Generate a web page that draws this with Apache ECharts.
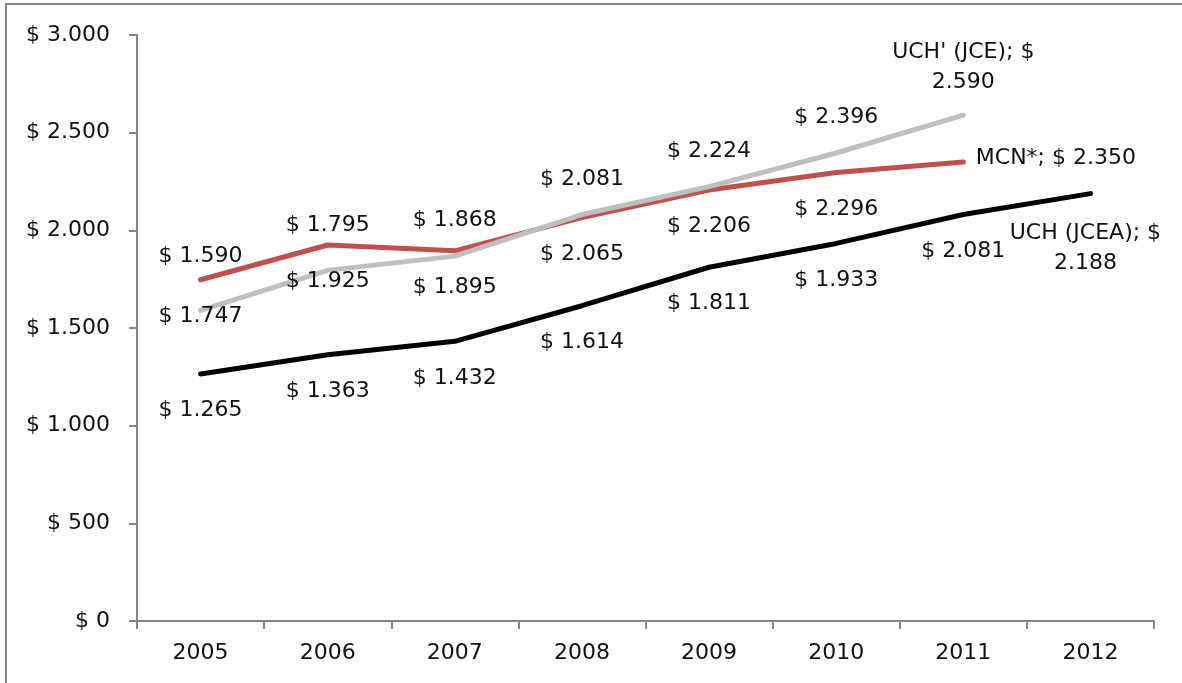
<!DOCTYPE html>
<html>
<head>
<meta charset="utf-8">
<script src="https://cdn.jsdelivr.net/npm/echarts@6/dist/echarts.min.js"></script>
<style>
  html, body { margin: 0; padding: 0; background: #fff; }
  #chart { width: 1182px; height: 683px; }
</style>
</head>
<body>
<div id="chart"></div>
<script>
// === DATA ===
const years = ["2005", "2006", "2007", "2008", "2009", "2010", "2011", "2012"];
const mcn = [1747, 1925, 1895, 2065, 2206, 2296, 2350];
const uchJce = [1590, 1795, 1868, 2081, 2224, 2396, 2590];
const uchJcea = [1265, 1363, 1432, 1614, 1811, 1933, 2081, 2188];
const yMin = 0;
const yMax = 3000;
const yStep = 500;

const FONT = "DejaVu Sans";

// "$ 1.747" style (dot as thousands separator)
const money = (v) => {
    const s = String(Math.round(v));
    return "$ " + s.replace(/\B(?=(\d{3})+(?!\d))/g, ".");
};
const plain = (v) => money(v).slice(2);

const baseLabel = {
    show: true,
    fontFamily: FONT,
    fontSize: 22,
    color: "#111",
};

// build points, last point gets the series name label
const buildData = (values, name, pos, lastLabel, tweaks) =>
    values.map((v, i) => {
        const item = { value: v };
        if (i === values.length - 1) {
            item.label = Object.assign({}, baseLabel, lastLabel, {
                formatter: () => lastLabel.text(name, v),
            });
        } else if (tweaks && tweaks[i]) {
            item.label = Object.assign({}, baseLabel, { position: pos }, tweaks[i]);
        }
        return item;
    });

// labels need symbols, so keep them but make them invisible
const hiddenSymbol = {
    symbol: "circle",
    showSymbol: true,
    symbolSize: 1,
    itemStyle: { color: "rgba(0,0,0,0)" },
};

const chart = echarts.init(document.getElementById("chart"));

const option = {
    animation: false,
    backgroundColor: "#fff",
    graphic: [
        {
            type: "rect",
            z: -1,
            shape: { x: 6, y: 4, width: 1400, height: 900 },
            style: { fill: "none", stroke: "#868686", lineWidth: 2 },
        },
    ],
    grid: { left: 137, right: 28, top: 35, bottom: 62 },
    xAxis: {
        type: "category",
        data: years,
        boundaryGap: true,
        axisLine: { lineStyle: { color: "#868686", width: 2 } },
        axisTick: { show: true, length: 8, lineStyle: { color: "#868686", width: 2 } },
        axisLabel: { fontFamily: FONT, fontSize: 22, color: "#111", margin: 21 },
        splitLine: { show: false },
    },
    yAxis: {
        type: "value",
        min: yMin,
        max: yMax,
        interval: yStep,
        axisLine: { show: true, lineStyle: { color: "#868686", width: 2 } },
        axisTick: { show: true, length: 8, lineStyle: { color: "#868686", width: 2 } },
        axisLabel: {
            fontFamily: FONT,
            fontSize: 22,
            color: "#111",
            margin: 27,
            formatter: (v) => money(v),
        },
        splitLine: { show: false },
    },
    series: [
        Object.assign({}, hiddenSymbol, {
            name: "MCN*",
            type: "line",
            lineStyle: { color: "#C0504D", width: 5, cap: "round" },
            label: Object.assign({}, baseLabel, {
                position: "bottom",
                distance: 25,
                formatter: (p) => money(p.value),
            }),
            data: buildData(mcn, "MCN*", "bottom", {
                position: "right",
                distance: 12,
                offset: [0, -4],
                text: (n, v) => n + "; " + money(v),
            }),
        }),
        Object.assign({}, hiddenSymbol, {
            name: "UCH' (JCE)",
            type: "line",
            lineStyle: { color: "#BFBFBF", width: 5, cap: "round" },
            label: Object.assign({}, baseLabel, {
                position: "top",
                distance: 24,
                formatter: (p) => money(p.value),
            }),
            data: buildData(
                uchJce,
                "UCH' (JCE)",
                "top",
                {
                    position: "top",
                    distance: 17,
                    lineHeight: 30,
                    text: (n, v) => n + "; $\n" + plain(v),
                },
                { 0: { distance: 43 }, 1: { distance: 34 } }
            ),
        }),
        Object.assign({}, hiddenSymbol, {
            name: "UCH (JCEA)",
            type: "line",
            lineStyle: { color: "#000000", width: 5, cap: "round" },
            label: Object.assign({}, baseLabel, {
                position: "bottom",
                distance: 25,
                formatter: (p) => money(p.value),
            }),
            data: buildData(uchJcea, "UCH (JCEA)", "bottom", {
                position: "bottom",
                distance: 24,
                lineHeight: 30,
                offset: [-5, 0],
                text: (n, v) => n + "; $\n" + plain(v),
            }),
        }),
    ],
};

chart.setOption(option);
</script>
</body>
</html>
